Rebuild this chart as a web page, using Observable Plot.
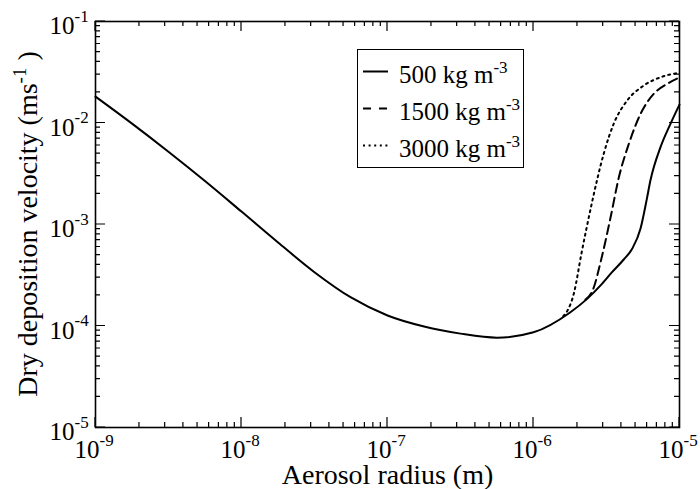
<!DOCTYPE html>
<html><head><meta charset="utf-8">
<script src="https://cdn.jsdelivr.net/npm/d3@7"></script>
<script src="https://cdn.jsdelivr.net/npm/@observablehq/plot@0.6"></script>
<style>body{margin:0;background:#fff} svg{display:block}</style>
</head><body><div id="chart"></div>
<script>
// ---- data ----
const radius500 = [1.00e-9, 1.78e-9, 3.16e-9, 5.62e-9, 1.00e-8, 1.78e-8, 3.16e-8, 5.62e-8, 1.00e-7, 1.78e-7, 3.16e-7, 5.62e-7, 1.00e-6, 1.78e-6, 2.33e-6, 2.88e-6, 3.45e-6, 4.15e-6, 4.74e-6, 5.41e-6, 5.98e-6, 6.32e-6, 7.41e-6, 8.67e-6, 1.0e-5];
const vel500    = [1.82e-2, 9.86e-3, 5.21e-3, 2.68e-3, 1.34e-3, 6.65e-4, 3.39e-4, 1.91e-4, 1.27e-4, 9.89e-5, 8.41e-5, 7.67e-5, 8.67e-5, 1.36e-4, 1.85e-4, 2.51e-4, 3.39e-4, 4.52e-4, 5.77e-4, 9.14e-4, 1.80e-3, 2.71e-3, 5.78e-3, 9.82e-3, 1.52e-2];
const radius1500 = [2.27e-6, 2.54e-6, 2.92e-6, 3.37e-6, 3.84e-6, 4.50e-6, 5.41e-6, 6.67e-6, 8.24e-6, 1.0e-5];
const vel1500    = [1.82e-4, 2.24e-4, 4.62e-4, 1.17e-3, 2.90e-3, 6.24e-3, 1.23e-2, 1.94e-2, 2.43e-2, 2.81e-2];
const radius3000 = [1.60e-6, 1.71e-6, 1.89e-6, 2.13e-6, 2.48e-6, 2.74e-6, 3.03e-6, 3.55e-6, 4.39e-6, 5.69e-6, 7.41e-6, 9.40e-6, 1.0e-5];
const vel3000    = [1.25e-4, 1.42e-4, 2.09e-4, 5.18e-4, 1.50e-3, 2.84e-3, 5.01e-3, 9.89e-3, 1.67e-2, 2.34e-2, 2.82e-2, 3.08e-2, 3.11e-2];
const seriesNames = ["500 kg m", "1500 kg m", "3000 kg m"];
const seriesSup = "-3";
const xTickExp = [-9, -8, -7, -6, -5];
const yTickExp = [-5, -4, -3, -2, -1];
const xTitle = "Aerosol radius (m)";
const yTitleParts = ["Dry deposition velocity (ms", "-1", " )"];

// ---- layout ----
const W = 700, H = 489, mL = 95, mR = 21, mT = 21, mB = 62;
const innerW = W - mL - mR, innerH = H - mT - mB;
const font = "'Liberation Serif', 'Times New Roman', serif";
const xDom = [1e-9, 1e-5], yDom = [1e-5, 1e-1];

const toRows = (xs, ys) => xs.map((x, i) => ({x, y: ys[i]}));
const s500 = toRows(radius500, vel500);
const s1500 = toRows(radius1500, vel1500);
const s3000 = toRows(radius3000, vel3000);

const minorOf = exps => exps.slice(0, -1).flatMap(e => d3.range(2, 10).map(m => m * 10 ** e));
const xMajor = xTickExp.map(e => 10 ** e), yMajor = yTickExp.map(e => 10 ** e);
const xMinor = minorOf(xTickExp), yMinor = minorOf(yTickExp);

const plot = Plot.plot({
  width: W, height: H,
  marginLeft: mL, marginRight: mR, marginTop: mT, marginBottom: mB,
  style: {fontFamily: font, background: "white", color: "black", overflow: "visible"},
  x: {type: "log", domain: xDom, axis: null},
  y: {type: "log", domain: yDom, axis: null},
  marks: [
    // curves
    Plot.line(s3000, {x: "x", y: "y", stroke: "black", strokeWidth: 2, strokeDasharray: "2,4", curve: "monotone-x"}),
    Plot.line(s1500, {x: "x", y: "y", stroke: "black", strokeWidth: 2, strokeDasharray: "9,5", curve: "monotone-x"}),
    Plot.line(s500, {x: "x", y: "y", stroke: "black", strokeWidth: 2, curve: "monotone-x"}),
    Plot.frame({stroke: "black", strokeWidth: 1.6}),
    // tick labels
    Plot.text(xTickExp, {x: e => 10 ** e, text: () => "10", frameAnchor: "bottom", lineAnchor: "bottom", textAnchor: "end", dx: 4, dy: 30, fontSize: 25, fill: "black"}),
    Plot.text(xTickExp, {x: e => 10 ** e, text: e => String(e), frameAnchor: "bottom", lineAnchor: "bottom", textAnchor: "start", dx: 4, dy: 18, fontSize: 17, fill: "black"}),
    Plot.text(yTickExp, {y: e => 10 ** e, text: () => "10", frameAnchor: "left", lineAnchor: "bottom", textAnchor: "end", dx: -21, dy: 12.5, fontSize: 25, fill: "black"}),
    Plot.text(yTickExp, {y: e => 10 ** e, text: e => String(e), frameAnchor: "left", lineAnchor: "bottom", textAnchor: "start", dx: -21, dy: 0, fontSize: 17, fill: "black"}),
    // x title
    Plot.text([xTitle], {text: d => d, frameAnchor: "bottom", lineAnchor: "bottom", dy: 56, fontSize: 28, fill: "black"})
  ]
});

const svg = d3.select(plot);
const sx = plot.scale("x"), sy = plot.scale("y");

// inward ticks on all four sides, positioned by Plot's own scales
let tickPath = "";
const bottom = mT + innerH, right = W - mR;
const addX = (vals, len) => vals.forEach(v => { const X = sx.apply(v); tickPath += `M${X},${bottom}v${-len}M${X},${mT}v${len}`; });
const addY = (vals, len) => vals.forEach(v => { const Y = sy.apply(v); tickPath += `M${mL},${Y}h${len}M${right},${Y}h${-len}`; });
addX(xMajor, 10); addX(xMinor, 5); addY(yMajor, 10); addY(yMinor, 5);
svg.append("path").attr("d", tickPath).attr("fill", "none").attr("stroke", "black").attr("stroke-width", 1.2);

// y title with superscript
const yt = svg.append("text")
  .attr("transform", `translate(37,${mT + innerH / 2}) rotate(-90)`)
  .attr("text-anchor", "middle")
  .attr("font-family", font).attr("font-size", 28).attr("fill", "black");
yt.append("tspan").text(yTitleParts[0]);
yt.append("tspan").attr("dy", -11).attr("font-size", 19).text(yTitleParts[1]);
yt.append("tspan").attr("dy", 11).text(yTitleParts[2]);

// legend
const lg = svg.append("g").attr("font-family", font).attr("fill", "black").attr("text-anchor", "start");
lg.append("rect").attr("x", 357.5).attr("y", 49.5).attr("width", 166).attr("height", 118)
  .attr("fill", "white").attr("stroke", "black").attr("stroke-width", 1);
const dashes = [null, "8,8", "2,3.6"];
seriesNames.forEach((name, i) => {
  const base = 83 + i * 37;
  lg.append("line").attr("x1", 363).attr("x2", 388).attr("y1", base - 11.5).attr("y2", base - 11.5)
    .attr("stroke", "black").attr("stroke-width", 2).attr("stroke-dasharray", dashes[i]);
  const t = lg.append("text").attr("x", 399).attr("y", base).attr("font-size", 25).attr("text-anchor", "start");
  t.append("tspan").text(name);
  t.append("tspan").attr("dy", -10).attr("font-size", 17).text(seriesSup);
});

document.getElementById("chart").append(plot);
</script>
</body></html>
